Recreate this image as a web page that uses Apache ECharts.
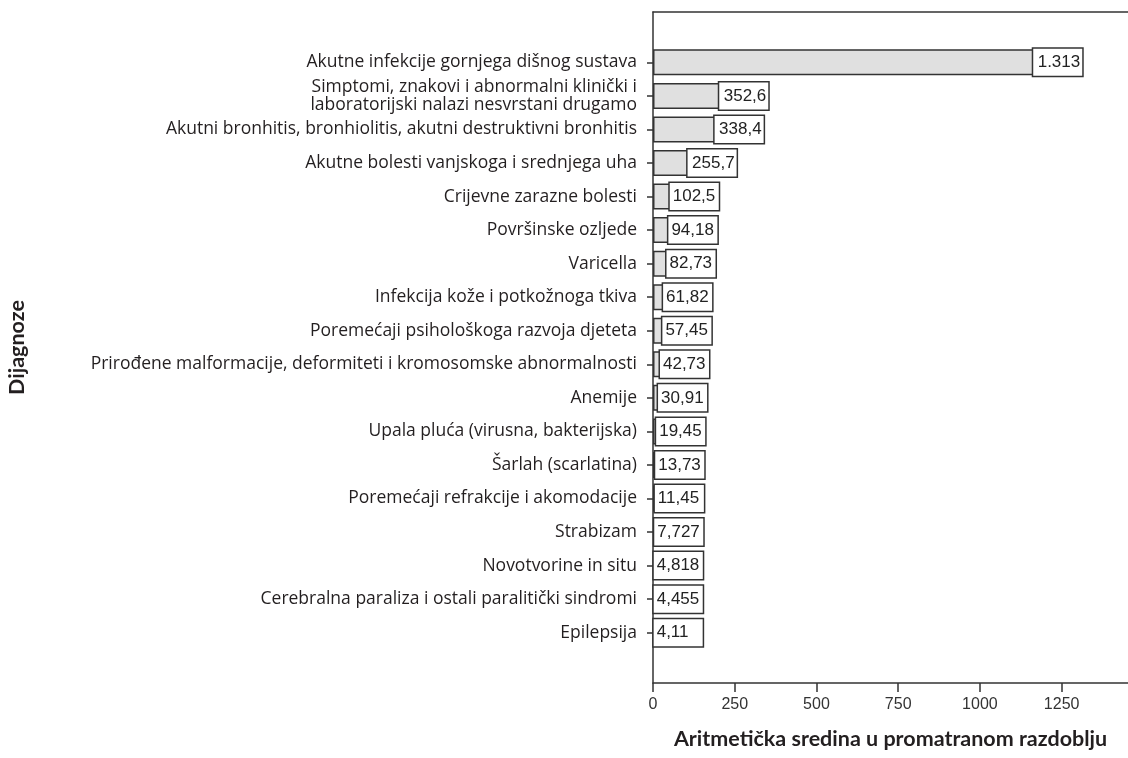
<!DOCTYPE html>
<html>
<head>
<meta charset="utf-8">
<script src="https://cdn.jsdelivr.net/npm/echarts@6/dist/echarts.min.js"></script>
<style>html,body{margin:0;padding:0;background:#fff}#c{width:1128px;height:758px}</style>
</head>
<body>
<div id="c"></div>
<script>
const categories = [
  'Akutne infekcije gornjega dišnog sustava',
  'Simptomi, znakovi i abnormalni klinički i\nlaboratorijski nalazi nesvrstani drugamo',
  'Akutni bronhitis, bronhiolitis, akutni destruktivni bronhitis',
  'Akutne bolesti vanjskoga i srednjega uha',
  'Crijevne zarazne bolesti',
  'Površinske ozljede',
  'Varicella',
  'Infekcija kože i potkožnoga tkiva',
  'Poremećaji psihološkoga razvoja djeteta',
  'Prirođene malformacije, deformiteti i kromosomske abnormalnosti',
  'Anemije',
  'Upala pluća (virusna, bakterijska)',
  'Šarlah (scarlatina)',
  'Poremećaji refrakcije i akomodacije',
  'Strabizam',
  'Novotvorine in situ',
  'Cerebralna paraliza i ostali paralitički sindromi',
  'Epilepsija'
];
const values = [1313, 352.6, 338.4, 255.7, 102.5, 94.18, 82.73, 61.82, 57.45, 42.73, 30.91, 19.45, 13.73, 11.45, 7.727, 4.818, 4.455, 4.11];
const valueLabels = ['1.313','352,6','338,4','255,7','102,5','94,18','82,73','61,82','57,45','42,73','30,91','19,45','13,73','11,45','7,727','4,818','4,455','4,11'];
const xTicks = [0, 250, 500, 750, 1000, 1250];
const xTitle = 'Aritmetička sredina u promatranom razdoblju';
const yTitle = 'Dijagnoze';

// pad one empty band at top and bottom
const cats = [''].concat(categories, ['']);
const seriesData = [null].concat(values.map(function (v, i) {
  const big = v > 150;
  return {
    value: v,
    label: big ? { position: 'insideRight', distance: 0 }
               : { position: ['50%', '50%'], align: 'left', verticalAlign: 'middle' },
    labelText: valueLabels[i]
  };
}), [null]);

const X_MAX = 1453;
const chart = echarts.init(document.getElementById('c'), null, { renderer: 'canvas' });
chart.setOption({
  animation: false,
  backgroundColor: '#fff',
  grid: { left: 653, right: 0, top: 12, bottom: 75, show: false, containLabel: false },
  xAxis: [{
    type: 'value', min: 0, max: X_MAX, interval: 250,
    name: xTitle, nameLocation: 'middle', nameGap: 45,
    nameTextStyle: { fontFamily: 'Lato', fontWeight: 'bold', fontSize: 21.5, color: '#231f20' },
    axisLine: { show: true, lineStyle: { color: '#333', width: 1.5 } },
    axisTick: { show: true, length: 9, lineStyle: { color: '#333', width: 1.5 } },
    axisLabel: { fontFamily: 'Liberation Sans', fontSize: 16, color: '#333', margin: 14, showMaxLabel: false,
      formatter: function (v) { return xTicks.indexOf(v) >= 0 ? String(v) : ''; } },
    splitLine: { show: false }
  }, {
    type: 'value', position: 'top', min: 0, max: X_MAX,
    axisLine: { show: true, lineStyle: { color: '#333', width: 1.5 } },
    axisTick: { show: false }, axisLabel: { show: false }, splitLine: { show: false }
  }],
  yAxis: {
    type: 'category', data: cats, inverse: true,
    name: yTitle, nameLocation: 'middle', nameGap: 625, nameRotate: 90,
    nameTextStyle: { fontFamily: 'Lato', fontWeight: 'bold', fontSize: 21.5, color: '#231f20' },
    axisLine: { show: true, lineStyle: { color: '#333', width: 1.5 } },
    axisTick: { show: true, alignWithLabel: true, length: 6, lineStyle: { color: '#333', width: 1.5 },
      interval: function (i) { return i > 0 && i < cats.length - 1; } },
    axisLabel: { fontFamily: 'Open Sans', fontSize: 17.5, color: '#231f20', margin: 16, lineHeight: 18, interval: 0 },
    splitLine: { show: false }
  },
  series: [{
    type: 'bar',
    xAxisIndex: 0,
    data: seriesData,
    barWidth: 26,
    itemStyle: { color: '#e0e0e0', borderColor: '#333', borderWidth: 1.5 },
    label: {
      show: true,
      formatter: function (p) { return p.data && p.data.labelText; },
      fontFamily: 'Liberation Sans', fontSize: 17, color: '#222',
      backgroundColor: '#fff', borderColor: '#333', borderWidth: 1.5,
      width: 44, padding: [4, 2, 4, 3], lineHeight: 19
    }
  }]
});
</script>
</body>
</html>
